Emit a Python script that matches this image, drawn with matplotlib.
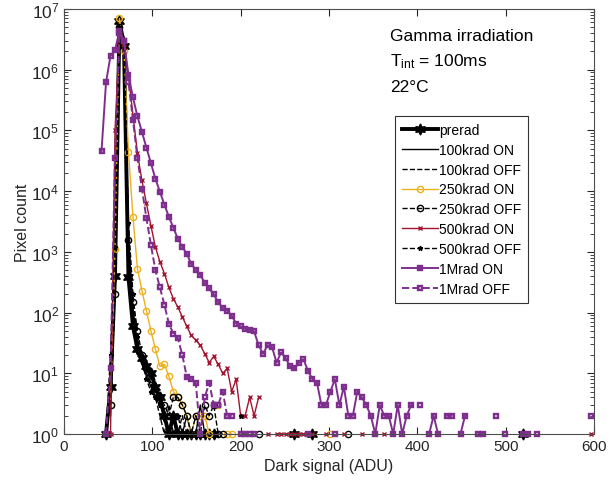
import numpy as np
import matplotlib
matplotlib.use("Agg")
from matplotlib import pyplot as plt

plt.rcParams['font.family'] = ['Liberation Sans', 'DejaVu Sans']
plt.rcParams['mathtext.fontset'] = 'custom'
plt.rcParams['mathtext.rm'] = 'Liberation Sans'
plt.rcParams['mathtext.it'] = 'Liberation Sans'

# histogram bins (ADU)
first_bin = 42.5
bin_width = 5.08
n_bins = 110

# counts per bin, starting at bin 0; 0 = empty bin (not drawn on log axis)
preread = [0, 1, 6, 400, 6.3e6, 2.5e6, 380, 60, 25, 18,
           13, 10, 6, 4, 2, 1, 2, 1, 1, 1,
           1, 1, 1, 1, 1, 1]
preread_tail = {43: 1, 47: 1, 94: 1}

on_100k = [0, 0, 2, 300, 5e6, 3.5e6, 2000, 120, 30, 14,
           9, 6, 4, 3, 2, 1, 2, 1, 1, 2,
           1, 1, 3, 1, 1]
on_100k_tail = {}

off_100k = [0, 1, 10, 600, 5.5e6, 3e6, 1500, 100, 28, 16,
            10, 7, 4, 2, 1, 3, 1, 1, 2, 1,
            1]
off_100k_tail = {}

on_250k = [0, 0, 3, 1100, 7e6, 2e6, 4.4e4, 3800, 525, 230,
           107, 50, 25, 13, 14, 9, 5, 4, 3, 2,
           1, 2, 2, 2, 1, 0, 3, 0, 1, 1]
on_250k_tail = {51: 1}

off_250k = [0, 0, 3, 200, 5e6, 2.5e6, 1550, 150, 50, 20,
            12, 8, 5, 4, 3, 2, 4, 4, 3, 2,
            1, 2, 1, 3, 2, 3, 1, 1]
off_250k_tail = {35: 1, 55: 1}

on_500k = [0, 0, 1, 1e5, 4e6, 2.4e6, 8e5, 1.8e5, 4.2e4, 1.5e4,
           6300, 2700, 1200, 690, 440, 260, 170, 123, 85, 59,
           42, 35, 29, 21, 15, 19, 14, 10, 12, 5,
           8, 2, 2, 4, 2, 4, 0, 1, 0, 1,
           1, 1, 1, 1, 1, 1, 1, 1]
on_500k_tail = {50: 1, 54: 1, 58: 1, 63: 1, 109: 1}

off_500k = [0, 1, 20, 1200, 5e6, 3e6, 3000, 200, 40, 16,
            8, 5, 4, 3, 2, 1, 1, 2, 1, 1,
            1, 1, 1]
off_500k_tail = {31: 2}

on_1m = [4.6e4, 6.2e5, 1.7e6, 2.1e6, 4.4e6, 3.0e6, 8.1e5, 3.5e5, 1.7e5, 9.5e4,
         5.2e4, 2.9e4, 1.6e4, 9800, 6000, 3800, 2500, 1650, 1200, 930,
         630, 510, 415, 310, 250, 200, 148, 120, 107, 89,
         66, 59, 54, 52, 49, 29, 21, 29, 27, 15,
         22, 18, 13, 12, 15, 17, 11, 8, 7, 3,
         3, 5, 8, 3, 6, 2, 2, 5, 4, 3,
         2, 1, 3, 2, 2, 1, 3, 1, 2, 3,
         0, 3, 0, 1, 2, 1, 0, 2, 2, 0,
         1, 2, 0, 0, 1, 1, 0, 0, 2, 0,
         1]
on_1m_tail = {94: 1, 95: 1, 97: 1, 109: 2}

off_1m = [0, 1, 12, 3.5e4, 4e6, 3e6, 6.3e5, 1.5e5, 3.5e4, 1.1e4,
          3600, 1300, 500, 260, 135, 66, 45, 38, 20, 8.7,
          8, 7, 1, 4, 7, 3, 3, 5, 2, 2,
          0, 1, 1, 1, 1]
off_1m_tail = {46: 1, 52: 1}

adu = first_bin + bin_width * np.arange(n_bins)


def series(counts, tail):
    y = np.zeros(n_bins)
    y[:len(counts)] = counts
    for k, v in tail.items():
        y[k] = v
    y[y <= 0] = np.nan
    return y


black = 'k'
orange = (0.929, 0.694, 0.125)
red = (0.635, 0.078, 0.184)
purple = (0.494, 0.184, 0.556)

fig = plt.figure(figsize=(6.16, 4.81), dpi=100)
ax = fig.add_axes([64/616, 1-435/481, 530/616, 425/481])

ax.plot(adu, series(preread, preread_tail), '-', color=black, lw=2.8,
        marker=(6, 1, 0), ms=8, label='prerad', clip_on=False)
ax.plot(adu, series(on_100k, on_100k_tail), '-', color=black, lw=1,
        label='100krad ON', clip_on=False)
ax.plot(adu, series(off_100k, off_100k_tail), '--', color=black, lw=1,
        label='100krad OFF', clip_on=False)
ax.plot(adu, series(on_250k, on_250k_tail), '-', color=orange, lw=1,
        marker='o', ms=4.5, mfc='none', mew=1, label='250krad ON', clip_on=False)
ax.plot(adu, series(off_250k, off_250k_tail), '--', color=black, lw=1,
        marker='o', ms=4.5, mfc='none', mew=1, label='250krad OFF', clip_on=False)
ax.plot(adu, series(on_500k, on_500k_tail), '-', color=red, lw=1,
        marker='x', ms=3.5, mew=1, label='500krad ON', clip_on=False)
ax.plot(adu, series(off_500k, off_500k_tail), '--', color=black, lw=1,
        marker='*', ms=3.5, label='500krad OFF', clip_on=False)
ax.plot(adu, series(on_1m, on_1m_tail), '-', color=purple, lw=1.4,
        marker='s', ms=3.5, mfc='none', mew=1.7, label='1Mrad ON', clip_on=False)
ax.plot(adu, series(off_1m, off_1m_tail), '--', color=purple, lw=1.4,
        marker='s', ms=3.5, mfc='none', mew=1.7, label='1Mrad OFF', clip_on=False)

ax.set_yscale('log')
ax.set_xlim(0, 600)
ax.set_ylim(1, 1e7)
ax.set_xticks([0, 100, 200, 300, 400, 500, 600])
ax.set_yticks([10**i for i in range(8)])
ax.tick_params(which='both', direction='in', top=True, right=True,
               colors='0.15')
ax.tick_params(axis='x', labelsize=11)
ax.tick_params(axis='y', labelsize=12.5)
ax.tick_params(which='major', length=5)
ax.tick_params(which='minor', length=3)
for s in ax.spines.values():
    s.set_color('0.3')
    s.set_linewidth(0.8)

ax.set_xlabel('Dark signal (ADU)', fontsize=11.5, color='0.15')
ax.set_ylabel('Pixel count', fontsize=11.5, color='0.15', labelpad=1)

fig.text(390/616, 1-37/481, 'Gamma irradiation', fontsize=12.5, va='center')
fig.text(390/616, 1-62/481, r'T$_{\mathrm{int}}$ = 100ms', fontsize=12.5, va='center')
fig.text(390/616, 1-87/481, '22°C', fontsize=12.5, va='center')

leg = ax.legend(loc='upper left', bbox_to_anchor=(395/616, 1-117/481),
                bbox_transform=fig.transFigure, borderaxespad=0,
                fontsize=10, labelspacing=0.42, handlelength=2.6,
                handletextpad=0.05, fancybox=False, framealpha=1,
                edgecolor='0.2', borderpad=0.5)
leg.get_frame().set_linewidth(0.8)

fig.savefig('out.png', dpi=100)
